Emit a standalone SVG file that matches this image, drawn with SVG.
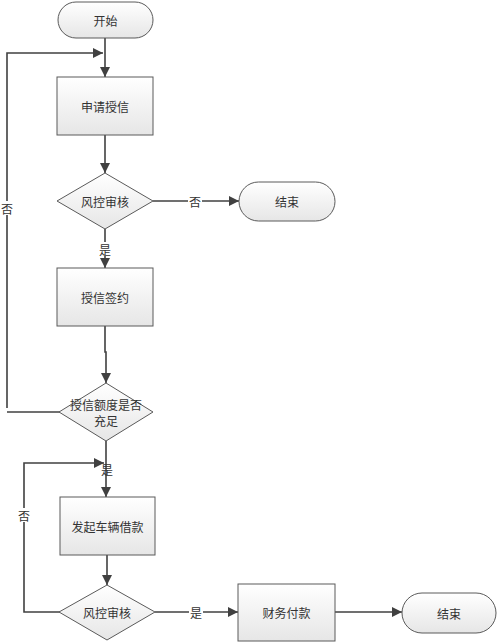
<svg xmlns="http://www.w3.org/2000/svg" width="500" height="644" viewBox="0 0 500 644">
<defs>
<linearGradient id="g" x1="0" y1="0" x2="0" y2="1">
<stop offset="0" stop-color="#ffffff"/>
<stop offset="1" stop-color="#e6e6e6"/>
</linearGradient>
<marker id="a" viewBox="0 0 10 10" refX="10" refY="5" markerWidth="10" markerHeight="10" markerUnits="userSpaceOnUse" orient="auto">
<path d="M0,0 L10,5 L0,10 z" fill="#404040"/>
</marker>
<style>
.s{fill:url(#g);stroke:#5a5a5a;stroke-width:1}
.t{font-family:"Noto Sans CJK SC","Noto Sans",sans-serif;font-size:12px;fill:#333;text-anchor:middle;dominant-baseline:central}
.c{fill:none;stroke:#404040;stroke-width:1.6;marker-end:url(#a)}
.l{fill:none;stroke:#404040;stroke-width:1.6}
.lb{fill:#fff}
</style>
</defs>
<g id="connectors">
<path class="c" d="M105,38 V77"/>
<path class="c" d="M7,408 V53 H103"/>
<path class="l" d="M60,412 H7"/>
<path class="c" d="M105,135 V173"/>
<path class="c" d="M153,201 H239"/>
<path class="c" d="M105,229 V268"/>
<path class="c" d="M105,326 V352 H106 V383"/>
<path class="c" d="M106,441 V497"/>
<path class="c" d="M60,612 H24 V463 H104"/>
<path class="c" d="M107,555 V585"/>
<path class="c" d="M155,612 H238"/>
<path class="c" d="M335,612 H402"/>
<rect class="lb" x="188" y="194" width="14" height="14"/>
<text class="t" x="195" y="201">否</text>
<rect class="lb" x="98" y="242" width="14" height="14"/>
<text class="t" x="105" y="249">是</text>
<rect class="lb" x="0" y="201" width="14" height="14"/>
<text class="t" x="7" y="208">否</text>
<text class="t" x="107" y="469">是</text>
<rect class="lb" x="17" y="508" width="14" height="14"/>
<text class="t" x="24" y="515">否</text>
<rect class="lb" x="189" y="605" width="14" height="14"/>
<text class="t" x="196" y="612">是</text>
</g>
<g id="start"><rect class="s" x="58" y="2" width="95" height="36" rx="18"/><text class="t" x="105.5" y="20">开始</text></g>
<g id="apply"><rect class="s" x="57" y="77" width="96" height="58"/><text class="t" x="105" y="106">申请授信</text></g>
<g id="review1"><path class="s" d="M105,173 L153,201 L105,229 L57,201 z"/><text class="t" x="105" y="201">风控审核</text></g>
<g id="end1"><rect class="s" x="239" y="182" width="96" height="39" rx="19.5"/><text class="t" x="287" y="201.5">结束</text></g>
<g id="sign"><rect class="s" x="57" y="268" width="96" height="58"/><text class="t" x="105" y="297">授信签约</text></g>
<g id="enough"><path class="s" d="M106,383 L153,412 L106,441 L59,412 z"/><text class="t" x="106" y="404">授信额度是否</text><text class="t" x="106" y="420">充足</text></g>
<g id="loan"><rect class="s" x="60" y="497" width="95" height="58"/><text class="t" x="107.5" y="526">发起车辆借款</text></g>
<g id="review2"><path class="s" d="M107,585 L155,612 L107,640 L59,612 z"/><text class="t" x="107" y="612">风控审核</text></g>
<g id="pay"><rect class="s" x="238" y="584" width="97" height="57"/><text class="t" x="286.5" y="612.5">财务付款</text></g>
<g id="end2"><rect class="s" x="402" y="593" width="94" height="40" rx="20"/><text class="t" x="449" y="613">结束</text></g>
</svg>
